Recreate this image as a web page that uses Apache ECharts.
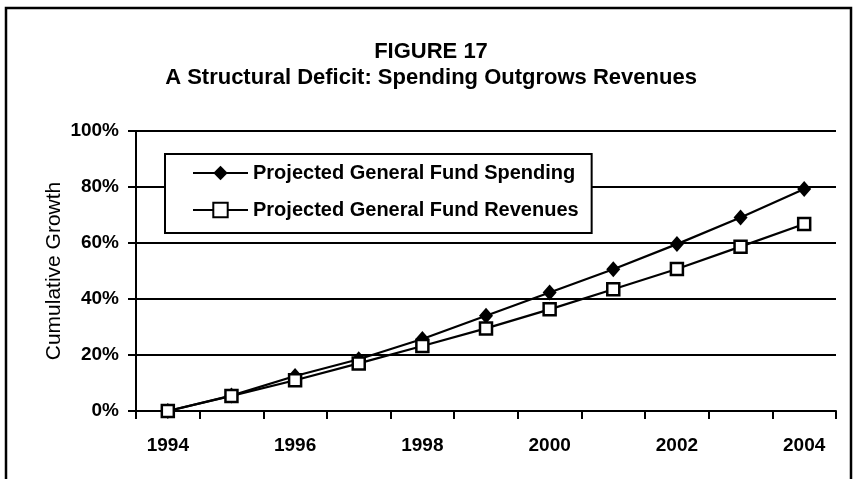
<!DOCTYPE html>
<html>
<head>
<meta charset="utf-8">
<script src="https://cdn.jsdelivr.net/npm/echarts@6/dist/echarts.min.js"></script>
<style>
  html, body { margin: 0; padding: 0; background: #fff; }
  #chart { width: 862px; height: 479px; }
</style>
</head>
<body>
<div id="chart"></div>
<script>
// data
const years = ["1994", "1995", "1996", "1997", "1998", "1999", "2000", "2001", "2002", "2003", "2004"];
const spending = [0, 5.5, 12.5, 18.5, 25.7, 34, 42.3, 50.6, 59.6, 69.1, 79.3];
const revenues = [0, 5.4, 11, 17, 23.2, 29.5, 36.3, 43.5, 50.7, 58.7, 66.8];
const seriesNames = ["Projected General Fund Spending", "Projected General Fund Revenues"];

// no narrow face installed, so sizes are picked to match the text widths
const bold = '"Liberation Sans", Arial, sans-serif';

const chart = echarts.init(document.getElementById("chart"));
chart.setOption({
  animation: false,
  backgroundColor: "#fff",
  title: [
    {
      text: "FIGURE 17",
      left: "center",
      top: 36,
      textStyle: { fontFamily: bold, fontWeight: "bold", fontSize: 22, color: "#000" }
    },
    {
      text: "A Structural Deficit: Spending Outgrows Revenues",
      left: "center",
      top: 62,
      textStyle: { fontFamily: bold, fontWeight: "bold", fontSize: 22, color: "#000" }
    }
  ],
  graphic: [
    {
      // outer frame, bottom edge runs off the picture
      type: "rect",
      shape: { x: 6, y: 8, width: 845, height: 490 },
      style: { fill: null, stroke: "#000", lineWidth: 2.5 },
      z: 100
    }
  ],
  legend: {
    data: seriesNames,
    orient: "vertical",
    left: 165,
    top: 154,
    padding: [9, 13, 13, 27],
    itemGap: 17,
    itemWidth: 55,
    itemHeight: 18,
    backgroundColor: "#fff",
    borderColor: "#000",
    borderWidth: 2,
    borderRadius: 0,
    textStyle: { fontFamily: bold, fontWeight: "bold", fontSize: 20, color: "#000" },
    z: 10
  },
  grid: { left: 136, right: 26, top: 131, bottom: 68 },
  xAxis: {
    type: "category",
    data: years,
    boundaryGap: true,
    axisLine: { lineStyle: { color: "#000", width: 2 } },
    axisTick: { show: true, interval: 0, length: 8, alignWithLabel: false, lineStyle: { color: "#000", width: 2 } },
    axisLabel: { interval: 1, margin: 25, fontFamily: bold, fontWeight: "bold", fontSize: 19, color: "#000" },
    splitLine: { show: false }
  },
  yAxis: {
    type: "value",
    min: 0,
    max: 100,
    interval: 20,
    name: "Cumulative Growth",
    nameLocation: "middle",
    nameGap: 71,
    nameMoveOverlap: false,
    nameTextStyle: { fontFamily: '"Liberation Sans", Arial, sans-serif', fontSize: 21, color: "#000" },
    axisLine: { show: true, lineStyle: { color: "#000", width: 2 } },
    axisTick: { show: true, length: 8, lineStyle: { color: "#000", width: 2 } },
    axisLabel: { margin: 17, formatter: "{value}%", fontFamily: bold, fontWeight: "bold", fontSize: 19, color: "#000" },
    splitLine: { show: true, lineStyle: { color: "#000", width: 2 } }
  },
  series: [
    {
      name: seriesNames[0],
      type: "line",
      data: spending,
      symbol: "diamond",
      symbolSize: [14, 16],
      lineStyle: { color: "#000", width: 2.2 },
      itemStyle: { color: "#000", borderColor: "#000", borderWidth: 0 },
      z: 3
    },
    {
      name: seriesNames[1],
      type: "line",
      data: revenues,
      symbol: "rect",
      symbolSize: 12,
      lineStyle: { color: "#000", width: 2.2 },
      itemStyle: { color: "#fff", borderColor: "#000", borderWidth: 2.5 },
      z: 4
    }
  ]
});
</script>
</body>
</html>
